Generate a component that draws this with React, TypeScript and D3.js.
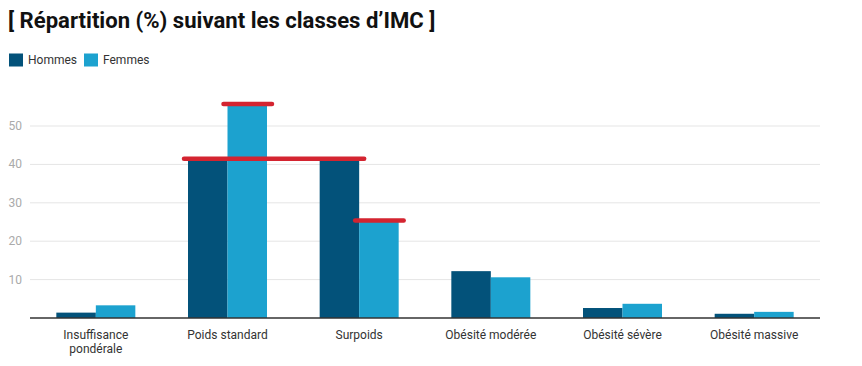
import React from "react";
import * as d3 from "d3";

const categories = [
  ["Insuffisance", "pondérale"],
  ["Poids standard"],
  ["Surpoids"],
  ["Obésité modérée"],
  ["Obésité sévère"],
  ["Obésité massive"],
];
const seriesNames = ["Hommes", "Femmes"];
const hommes = [1.4, 41.2, 41.2, 12.2, 2.6, 1.1];
const femmes = [3.3, 55.5, 25.1, 10.6, 3.7, 1.6];
const yTicks = [10, 20, 30, 40, 50];
// annotation lines: value, from (category index, series index) to (category index, series index)
const annotations = [
  { value: 41.2, from: [1, 0], to: [2, 0] },
  { value: 55.5, from: [1, 1], to: [1, 1] },
  { value: 25.1, from: [2, 1], to: [2, 1] },
];

const W = 862;
const H = 366;
const colors = ["#03527a", "#1ca2cf"];

export default function App() {
  const keys = categories.map((c) => c.join(" "));
  const x0 = d3.scaleBand<string>().domain(keys).range([30, 820]).paddingInner(0.4).paddingOuter(0.2);
  const x1 = d3.scaleBand<string>().domain(seriesNames).range([0, x0.bandwidth()]);
  const y = d3.scaleLinear().domain([0, 50]).range([318, 126]);
  const data = [hommes, femmes];
  const font = "Roboto, 'Noto Sans', sans-serif";

  return (
    <svg width={W} height={H} style={{ position: "absolute", left: 0, top: 0, background: "#fff" }} fontFamily={font}>
      <text x={8} y={28} fontSize={22.1} fontWeight={700} fill="#111">
        [ Répartition (%) suivant les classes d’IMC ]
      </text>
      {seriesNames.map((s, i) => {
        const lx = [9, 84][i];
        return (
          <g key={s}>
            <rect x={lx} y={53.5} width={14} height={13} fill={colors[i]} />
            <text x={lx + 19} y={63.5} fontSize={12} fill="#333">{s}</text>
          </g>
        );
      })}
      {yTicks.map((t) => (
        <g key={t}>
          <line x1={30} x2={820} y1={y(t)} y2={y(t)} stroke="#e5e5e5" strokeWidth={1} />
          <text x={22} y={y(t) + 4} fontSize={12} fill="#aaaaaa" textAnchor="end">{t}</text>
        </g>
      ))}
      {keys.map((k, ci) => (
        <g key={k} transform={`translate(${x0(k)},0)`}>
          {seriesNames.map((s, si) => (
            <rect key={s} x={x1(s)} y={y(data[si][ci])} width={x1.bandwidth()} height={y(0) - y(data[si][ci])} fill={colors[si]} />
          ))}
        </g>
      ))}
      <line x1={30} x2={820} y1={y(0)} y2={y(0)} stroke="#333" strokeWidth={1.3} />
      {categories.map((c, ci) => (
        <text key={ci} x={(x0(keys[ci]) as number) + x0.bandwidth() / 2} y={339} fontSize={12} fill="#333" textAnchor="middle">
          {c.map((line, li) => (
            <tspan key={li} x={(x0(keys[ci]) as number) + x0.bandwidth() / 2} dy={li === 0 ? 0 : 14}>{line}</tspan>
          ))}
        </text>
      ))}
      {annotations.map((a, i) => {
        const xa = (x0(keys[a.from[0]]) as number) + (x1(seriesNames[a.from[1]]) as number) - 4;
        const xb = (x0(keys[a.to[0]]) as number) + (x1(seriesNames[a.to[1]]) as number) + x1.bandwidth() + 5;
        return (
          <line key={i} x1={xa} x2={xb} y1={y(a.value) - 1} y2={y(a.value) - 1} stroke="#d42430" strokeWidth={4.5} strokeLinecap="round" />
        );
      })}
    </svg>
  );
}
